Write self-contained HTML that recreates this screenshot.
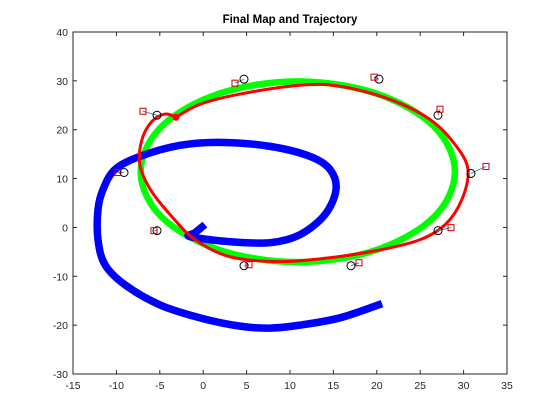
<!DOCTYPE html>
<html><head><meta charset="utf-8"><style>
body{margin:0;background:#fff}
svg{display:block;font-family:"Liberation Sans",Arial,sans-serif}
</style></head><body>
<svg id="chart" width="560" height="420">
<rect width="560" height="420" fill="#fff"/>
<text x="290" y="23" text-anchor="middle" font-size="11.5" font-weight="bold" fill="#000">Final Map and Trajectory</text>
<g id="plot"></g>
<g id="axes"></g>
</svg>
<script>
const xTicks=[-15,-10,-5,0,5,10,15,20,25,30,35];
const yTicks=[40,30,20,10,0,-10,-20,-30];
const greenX=[29.0,26.6,19.95,10.9,1.85,-4.8,-7.2,-4.8,1.85,10.9,19.95,26.6];
const greenY=[11.4,20.65,27.4,29.9,27.4,20.65,11.4,2.15,-4.6,-7.1,-4.6,2.15];
const blueX=[0.2,-0.94,-1.52,3.09,7.7,11.15,14.03,15.3,14.61,12.3,7.7,1.94,-2.67,-7.28,-10.16,-11.54,-12.12,-12.12,-11.31,-9.01,-4.98,-0.37,4.24,7.7,11.15,15.76,20.6];
const blueY=[0.58,-1.07,-1.89,-2.92,-3.12,-1.48,2.63,7.76,11.87,14.54,16.59,17.41,16.8,14.54,11.87,7.76,3.66,-2.51,-7.64,-11.75,-15.86,-18.5,-20.2,-20.6,-20.0,-18.5,-15.6];
const redX=[-3.13,-0.37,4.24,11.15,15.76,21.52,26.13,29.0,30.5,29.8,27.9,25.0,20.4,14.6,8.85,3.09,-0.94,-3.8,-6.1,-7.3,-7.05,-5.9,-4.4,-3.13];
const redY=[22.55,25.2,27.3,29.1,28.9,26.2,22.1,17.0,11.9,5.7,0.6,-2.5,-4.6,-6.2,-7.0,-6.0,-2.5,2.6,7.8,12.9,18.0,21.7,23.2,22.55];
const trueLmX=[4.7,20.25,-5.32,27.05,30.85,-9.12,-5.32,27.05,4.7,17.03];
const trueLmY=[30.35,30.35,22.96,22.96,11.05,11.25,-0.66,-0.66,-7.84,-7.84];
const estLmX=[3.66,19.68,-6.94,27.28,32.58,-9.82,-5.67,28.55,5.28,17.95];
const estLmY=[29.53,30.76,23.78,24.19,12.48,11.25,-0.66,-0.04,-7.64,-7.23];

const L=73,R=507,T=32,B=374;
const sx=v=>L+(v+15)/50*(R-L);
const sy=v=>B-(v+30)/70*(B-T);
const NS='http://www.w3.org/2000/svg';
const plot=document.getElementById('plot'),axes=document.getElementById('axes');
function mk(tag,attrs,parent){const e=document.createElementNS(NS,tag);for(const k in attrs)e.setAttribute(k,attrs[k]);parent.appendChild(e);return e;}
function smooth(xs,ys,closed){
  const p=xs.map((x,i)=>[sx(x),sy(ys[i])]);const n=p.length;
  let d='M'+p[0][0]+','+p[0][1];
  const g=i=>closed?p[(i+n)%n]:p[Math.max(0,Math.min(n-1,i))];
  const m=closed?n:n-1;
  for(let i=0;i<m;i++){const p0=g(i-1),p1=g(i),p2=g(i+1),p3=g(i+2);
    d+=' C'+(p1[0]+(p2[0]-p0[0])/6)+','+(p1[1]+(p2[1]-p0[1])/6)+' '+(p2[0]-(p3[0]-p1[0])/6)+','+(p2[1]-(p3[1]-p1[1])/6)+' '+p2[0]+','+p2[1];}
  return d+(closed?'Z':'');
}
const green=mk('path',{d:smooth(greenX,greenY,true),fill:'none',stroke:'#00ff00','stroke-width':6.5},plot);


const blue=mk('path',{d:smooth(blueX,blueY,false),fill:'none',stroke:'#0000ff','stroke-width':7.5,'stroke-linejoin':'round'},plot);


const red=mk('path',{d:smooth(redX,redY,false),fill:'none',stroke:'#ff0000','stroke-width':3},plot);


const dot=mk('circle',{cx:sx(redX[0]),cy:sy(redY[0]),r:3.5,fill:'#ff0000'},plot);


trueLmX.forEach((x,i)=>{
  const ln=mk('line',{x1:sx(x),y1:sy(trueLmY[i]),x2:sx(estLmX[i]),y2:sy(estLmY[i]),stroke:'#3a8fd0','stroke-width':1},plot);
  
  
  const c=mk('circle',{cx:sx(x),cy:sy(trueLmY[i]),r:4,fill:'none',stroke:'#000','stroke-width':1},plot);
  
  
  const s=mk('rect',{x:sx(estLmX[i])-3,y:sy(estLmY[i])-3,width:6,height:6,fill:'none',stroke:'#d00000','stroke-width':1},plot);
  
  
});
const box=mk('rect',{x:L,y:T,width:R-L,height:B-T,fill:'none',stroke:'#262626','stroke-width':1},axes);


xTicks.forEach(v=>{
  const x=sx(v);
  mk('line',{x1:x,y1:B,x2:x,y2:B-4,stroke:'#262626'},axes);
  mk('line',{x1:x,y1:T,x2:x,y2:T+4,stroke:'#262626'},axes);
  const t=mk('text',{x:x,y:B+15,'text-anchor':'middle','font-size':10.5,fill:'#262626'},axes);
  t.textContent=v;
  
  
});
yTicks.forEach(v=>{
  const y=sy(v);
  mk('line',{x1:L,y1:y,x2:L+4,y2:y,stroke:'#262626'},axes);
  mk('line',{x1:R,y1:y,x2:R-4,y2:y,stroke:'#262626'},axes);
  const t=mk('text',{x:L-5,y:y+4,'text-anchor':'end','font-size':10.5,fill:'#262626'},axes);
  t.textContent=v;
  
  
});
</script>
</body></html>
